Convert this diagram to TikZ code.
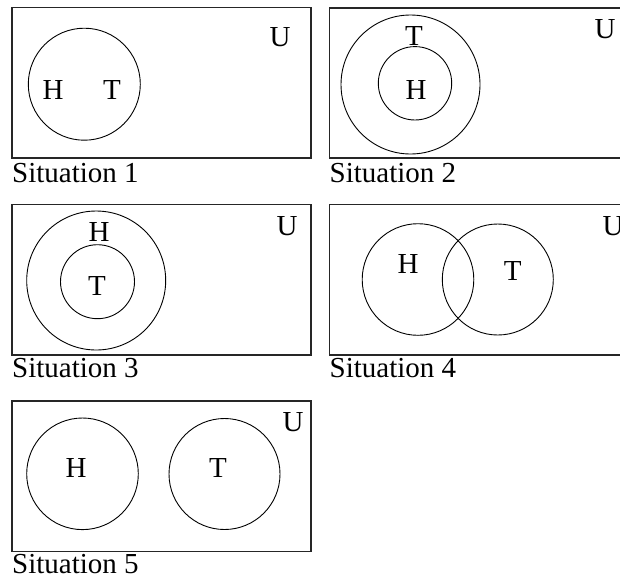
\documentclass[tikz,border=0pt]{standalone}
\usepackage{fontspec}
\setmainfont{Liberation Serif}
\begin{document}
\begin{tikzpicture}[x=1pt,y=-1pt,
  box/.style={draw=black!85,line width=1.2pt},
  set/.style={draw,line width=0.9pt},
  lbl/.style={font=\fontsize{29}{31}\selectfont,inner sep=0pt,anchor=base},
  sitlabel/.style={font=\fontsize{29}{31}\selectfont,inner sep=0pt,anchor=base west}]
\useasboundingbox (0,0) rectangle (620,579);
\clip (0,0) rectangle (620,579);
% Situation 1
\draw[box] (12,7.5) rectangle (311,158);
\draw[set] (84.3,84.2) circle (56);
\node[lbl] (h1) at (53,99.3) {H};
\node[lbl] (t1) at (112,99.3) {T};
\node[lbl] (u1) at (280,46) {U};
\node[sitlabel] (s1) at (12,182.5) {Situation 1};
% Situation 2
\draw[box] (329.5,8) rectangle (628,158);
\draw[set] (410.5,84.5) circle (69.5);
\draw[set] (415,83.3) circle (36.7);
\node[lbl] (t2) at (414,45.7) {T};
\node[lbl] (h2) at (416,99.3) {H};
\node[lbl] (u2) at (605,38.3) {U};
\node[sitlabel] (s2) at (329.5,182.5) {Situation 2};
% Situation 3
\draw[box] (12,204.5) rectangle (311,355);
\draw[set] (96.2,280.5) circle (69.5);
\draw[set] (97.5,281.7) circle (37);
\node[lbl] (h3) at (99,241.7) {H};
\node[lbl] (t3) at (97,295) {T};
\node[lbl] (u3) at (287,235) {U};
\node[sitlabel] (s3) at (12,377.5) {Situation 3};
% Situation 4
\draw[box] (329.5,204.5) rectangle (628,355);
\draw[set] (418,279.5) circle (55.8);
\draw[set] (497.8,279.5) circle (55.5);
\node[lbl] (h4) at (408,273.3) {H};
\node[lbl] (t4) at (512.7,280) {T};
\node[lbl] (u4) at (613,235) {U};
\node[sitlabel] (s4) at (329.5,377.5) {Situation 4};
% Situation 5
\draw[box] (12,401) rectangle (311,551.7);
\draw[set] (82.5,473.8) circle (55.8);
\draw[set] (224.5,474) circle (55.5);
\node[lbl] (h5) at (76,477.3) {H};
\node[lbl] (t5) at (218,477.3) {T};
\node[lbl] (u5) at (293,431.7) {U};
\node[sitlabel] (s5) at (12,573.3) {Situation 5};
\end{tikzpicture}
\end{document}
